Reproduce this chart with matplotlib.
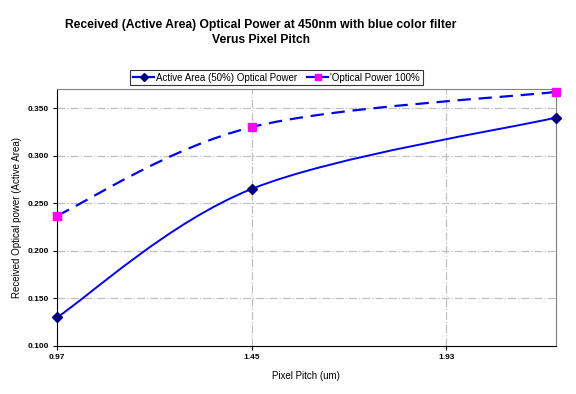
import matplotlib
matplotlib.use("Agg")
import matplotlib.pyplot as plt
import numpy as np
from matplotlib.path import Path
from matplotlib.patches import PathPatch
from matplotlib.lines import Line2D

pitch = [0.97, 1.45, 2.20]
active_50 = [0.130, 0.265, 0.340]
power_100 = [0.237, 0.330, 0.367]
xticks = [0.97, 1.45, 1.93]
yticks = [0.100, 0.150, 0.200, 0.250, 0.300, 0.350]

BLUE, NAVY, MAG, GRID = "#0000ff", "#000080", "#ff00ff", "#c0c0c0"
plt.rcParams["font.family"] = ["Liberation Sans", "DejaVu Sans"]


def smooth_path(x, y):
    # Excel-style smoothed line: cubic Bezier through every point
    p = np.column_stack([x, y])
    n = len(p)
    verts, codes = [p[0]], [Path.MOVETO]
    for i in range(n - 1):
        p0 = p[max(i - 1, 0)]
        p3 = p[min(i + 2, n - 1)]
        c1 = p[i] + (p[i + 1] - p0) / 6
        c2 = p[i + 1] - (p3 - p[i]) / 6
        verts += [c1, c2, p[i + 1]]
        codes += [Path.CURVE4] * 3
    return Path(verts, codes)


fig = plt.figure(figsize=(5.76, 3.94), dpi=100)
ax = fig.add_axes([0.099, 0.122, 0.866, 0.652])

ax.add_patch(PathPatch(smooth_path(pitch, power_100), fill=False, color=BLUE,
                       lw=1.6, ls=(0, (6, 3.5)), zorder=3))
ax.add_patch(PathPatch(smooth_path(pitch, active_50), fill=False, color=BLUE,
                       lw=1.4, zorder=3))
ax.plot(pitch, power_100, "s", color=MAG, ms=6, mec=MAG, zorder=4, clip_on=False)
ax.plot(pitch, active_50, "D", color=NAVY, ms=5, mec=NAVY, zorder=4, clip_on=False)

ax.set_xlim(0.97, 2.2)
ax.set_ylim(0.100, 0.370)
ax.set_xticks(xticks, [f"{v:.2f}" for v in xticks], fontsize=6, fontweight="bold")
ax.set_yticks(yticks, [f"{v:.3f}" for v in yticks], fontsize=6, fontweight="bold")
ax.tick_params(direction="out", length=3, width=0.8, color="black", pad=3)
for v in yticks[1:]:
    ax.axhline(v, color=GRID, lw=0.9, ls="-.", zorder=1)
for v in xticks[1:]:
    ax.axvline(v, color=GRID, lw=0.9, ls="-.", zorder=1)
for s in ["top", "right"]:
    ax.spines[s].set_color("#808080")
for s in ["left", "bottom"]:
    ax.spines[s].set_color("black")

ax.set_xlabel("Pixel Pitch (um)", fontsize=7, labelpad=7)
ax.set_ylabel("Received Optical power (Active Area)", fontsize=7, labelpad=4)

fig.text(0.453, 0.917, "Received (Active Area) Optical Power at 450nm with blue color filter\nVerus Pixel Pitch",
         ha="center", va="center", fontsize=8.7, fontweight="bold", linespacing=1.3)

handles = [Line2D([], [], color=BLUE, lw=1.6, marker="D", mfc=NAVY, mec=NAVY, ms=4),
           Line2D([], [], color=BLUE, lw=1.6, marker="s", mfc=MAG, mec=MAG, ms=5)]
leg = fig.legend(handles, ["Active Area (50%) Optical Power", "'Optical Power 100%"],
                 loc="center", bbox_to_anchor=(0.480, 0.803), ncol=2, fontsize=7,
                 frameon=True, fancybox=False, handlelength=2.2, handletextpad=0.2,
                 columnspacing=1.0, borderpad=0.25, borderaxespad=0)
leg.get_frame().set_edgecolor("black")
leg.get_frame().set_linewidth(0.8)

fig.savefig("out.png", dpi=100)
